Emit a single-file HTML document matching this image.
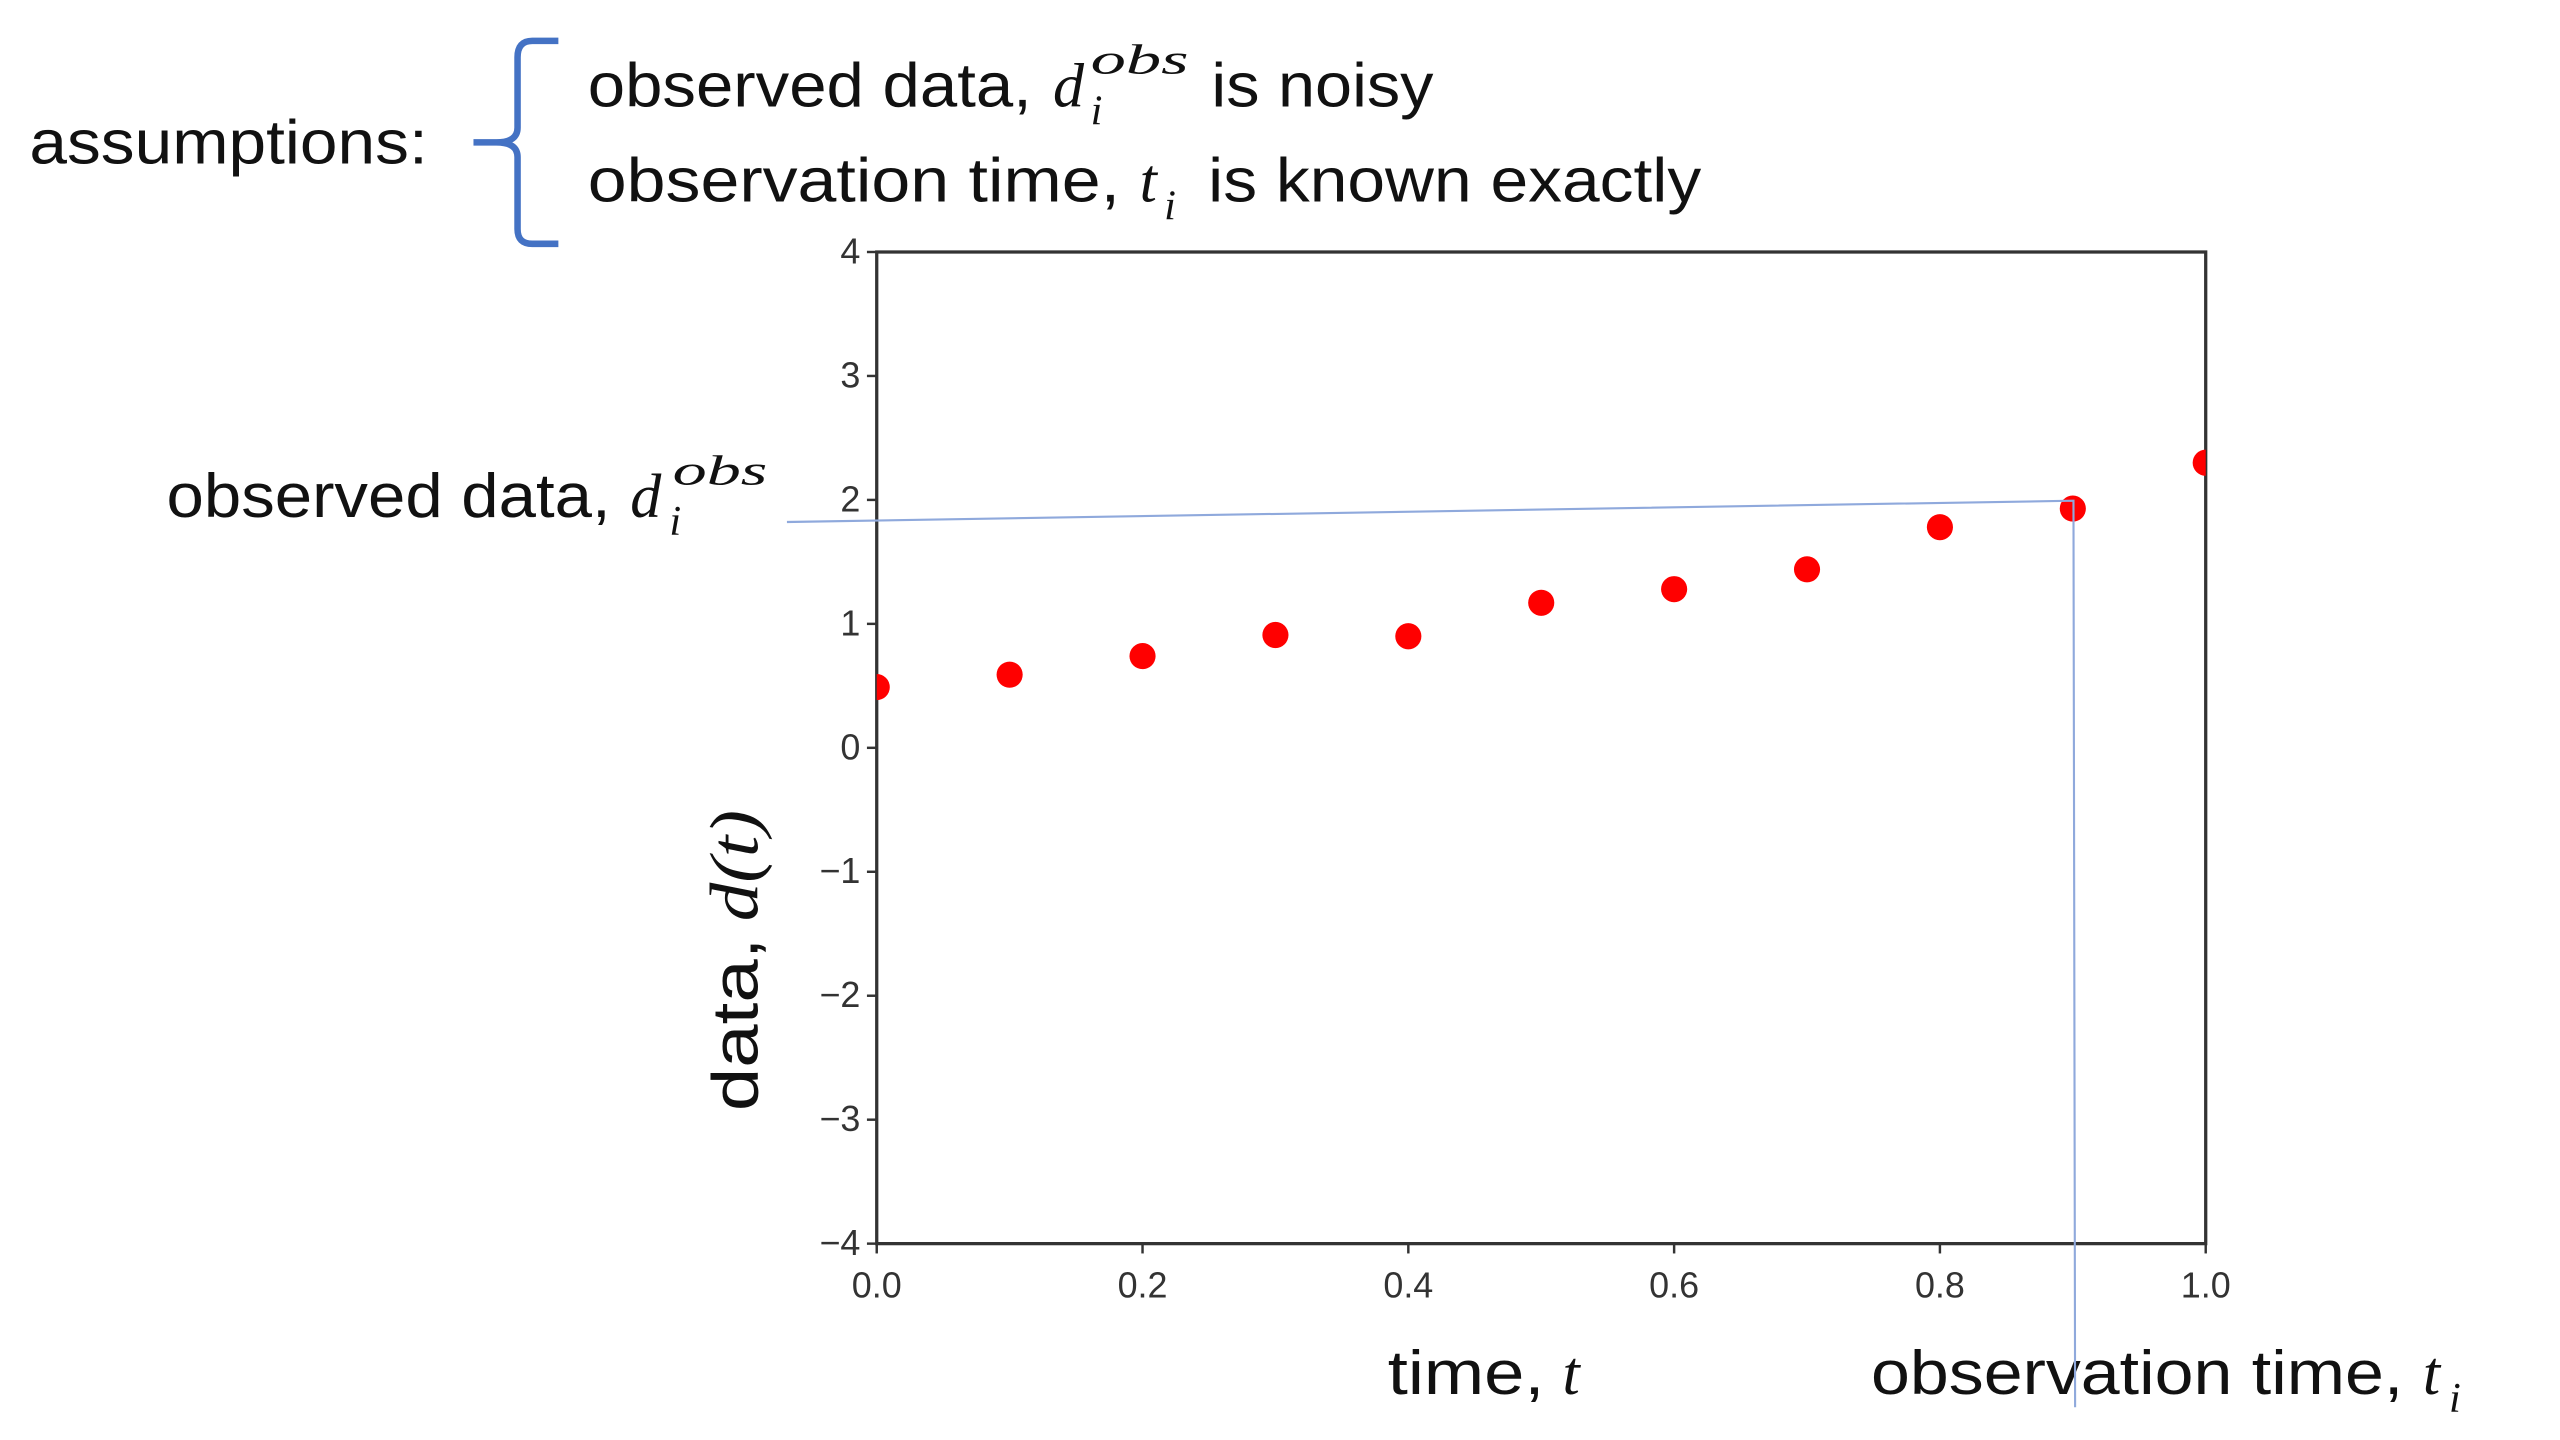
<!DOCTYPE html>
<html><head><meta charset="utf-8"><style>
html,body{margin:0;padding:0;background:#fff;width:2560px;height:1440px;overflow:hidden}
svg{display:block}
.t{font-family:"Liberation Sans",sans-serif;fill:#111}
.m{font-family:"Liberation Serif",serif;font-style:italic;fill:#111}
.tick{font-family:"Liberation Sans",sans-serif;font-size:22px;fill:#333}
</style></head><body>
<svg id="chart" width="2560" height="1440" viewBox="0 0 1568 880" preserveAspectRatio="none" xmlns="http://www.w3.org/2000/svg">
<defs><clipPath id="plotclip"><rect x="537" y="154" width="814" height="606"/></clipPath></defs>
<text class="t" x="18" y="100" font-size="38" textLength="244" lengthAdjust="spacingAndGlyphs">assumptions:</text>
<path d="M342,25 L326,25 Q317,25 317,35 L317,78 Q317,87 304,87 L290,87 M304,87 Q317,87 317,96 L317,140 Q317,149 326,149 L342,149" fill="none" stroke="#4472c4" stroke-width="4"/>
<g>
<text class="t" x="360" y="65" font-size="38" textLength="272" lengthAdjust="spacingAndGlyphs">observed data,</text>
<text class="m" x="645" y="65" font-size="38">d</text>
<text class="m" x="668" y="76" font-size="26">i</text>
<text class="m" x="668" y="45" font-size="26" textLength="60" lengthAdjust="spacingAndGlyphs">obs</text>
<text class="t" x="742" y="65" font-size="38" textLength="136" lengthAdjust="spacingAndGlyphs">is noisy</text>
</g>
<g>
<text class="t" x="360" y="123" font-size="38" textLength="326" lengthAdjust="spacingAndGlyphs">observation time,</text>
<text class="m" x="698" y="123" font-size="38">t</text>
<text class="m" x="713" y="134" font-size="26">i</text>
<text class="t" x="740" y="123" font-size="38" textLength="302" lengthAdjust="spacingAndGlyphs">is known exactly</text>
</g>
<g>
<text class="t" x="102" y="316" font-size="38" textLength="272" lengthAdjust="spacingAndGlyphs">observed data,</text>
<text class="m" x="386" y="316" font-size="38">d</text>
<text class="m" x="410" y="327" font-size="26">i</text>
<text class="m" x="412" y="296" font-size="26" textLength="58" lengthAdjust="spacingAndGlyphs">obs</text>
</g>
<g>
<text class="t" x="850" y="852" font-size="38" textLength="96" lengthAdjust="spacingAndGlyphs">time,</text>
<text class="m" x="957" y="852" font-size="38">t</text>
</g>
<g>
<text class="t" x="1146" y="852" font-size="38" textLength="326" lengthAdjust="spacingAndGlyphs">observation time,</text>
<text class="m" x="1484" y="852" font-size="38">t</text>
<text class="m" x="1500" y="863" font-size="26">i</text>
</g>
<g transform="translate(464,679) rotate(-90)">
<text class="t" x="0" y="0" font-size="40" textLength="106" lengthAdjust="spacingAndGlyphs">data,</text>
<text class="m" x="116" y="0" font-size="42" textLength="68" lengthAdjust="spacingAndGlyphs">d(t)</text>
</g>
<g id="axes"></g>
<g id="marks" clip-path="url(#plotclip)"></g>
<path d="M482,319 L1270,306 L1271,860" fill="none" stroke="#8fa9dc" stroke-width="1.3"/>
</svg>
<script>
const times=[0,0.1,0.2,0.3,0.4,0.5,0.6,0.7,0.8,0.9,1.0];
const dataValues=[0.49,0.59,0.74,0.91,0.90,1.17,1.28,1.44,1.78,1.93,2.30];
const xTicks=[0,0.2,0.4,0.6,0.8,1.0];
const xTickLabels=["0.0","0.2","0.4","0.6","0.8","1.0"];
const yTicks=[4,3,2,1,0,-1,-2,-3,-4];
const yTickLabels=["4","3","2","1","0","\u22121","\u22122","\u22123","\u22124"];
const NS="http://www.w3.org/2000/svg";
const L=537,R=1351,T=154,B=760,xMin=0,xMax=1,yMin=-4,yMax=4;
function xs(v){return L+(v-xMin)/(xMax-xMin)*(R-L);}
function ys(v){return B-(v-yMin)/(yMax-yMin)*(B-T);}
function mk(tag,attrs){const e=document.createElementNS(NS,tag);for(const k in attrs)e.setAttribute(k,attrs[k]);return e;}
const axes=document.getElementById('axes');
const frame=mk('rect',{x:L,y:T,width:R-L,height:B-T,fill:'none',stroke:'#333','stroke-width':2});


axes.appendChild(frame);
yTicks.forEach((v,i)=>{
  const y=ys(v);
  const tk=mk('line',{x1:L-6,x2:L,y1:y,y2:y,stroke:'#333','stroke-width':1.5});
  
  
  axes.appendChild(tk);
  const lb=mk('text',{x:L-10,y:y+7,'text-anchor':'end',class:'tick'});
  
  
  lb.textContent=yTickLabels[i];
  axes.appendChild(lb);
});
xTicks.forEach((v,i)=>{
  const x=xs(v);
  const tk=mk('line',{x1:x,x2:x,y1:B,y2:B+6,stroke:'#333','stroke-width':1.5});
  
  
  axes.appendChild(tk);
  const lb=mk('text',{x:x,y:B+33,'text-anchor':'middle',class:'tick'});
  
  
  lb.textContent=xTickLabels[i];
  axes.appendChild(lb);
});
const marks=document.getElementById('marks');
times.forEach((t,i)=>{
  const c=mk('ellipse',{cx:xs(t),cy:ys(dataValues[i]),rx:8,ry:8,fill:'#ff0000'});
  
  
  marks.appendChild(c);
});
</script>
</body></html>
